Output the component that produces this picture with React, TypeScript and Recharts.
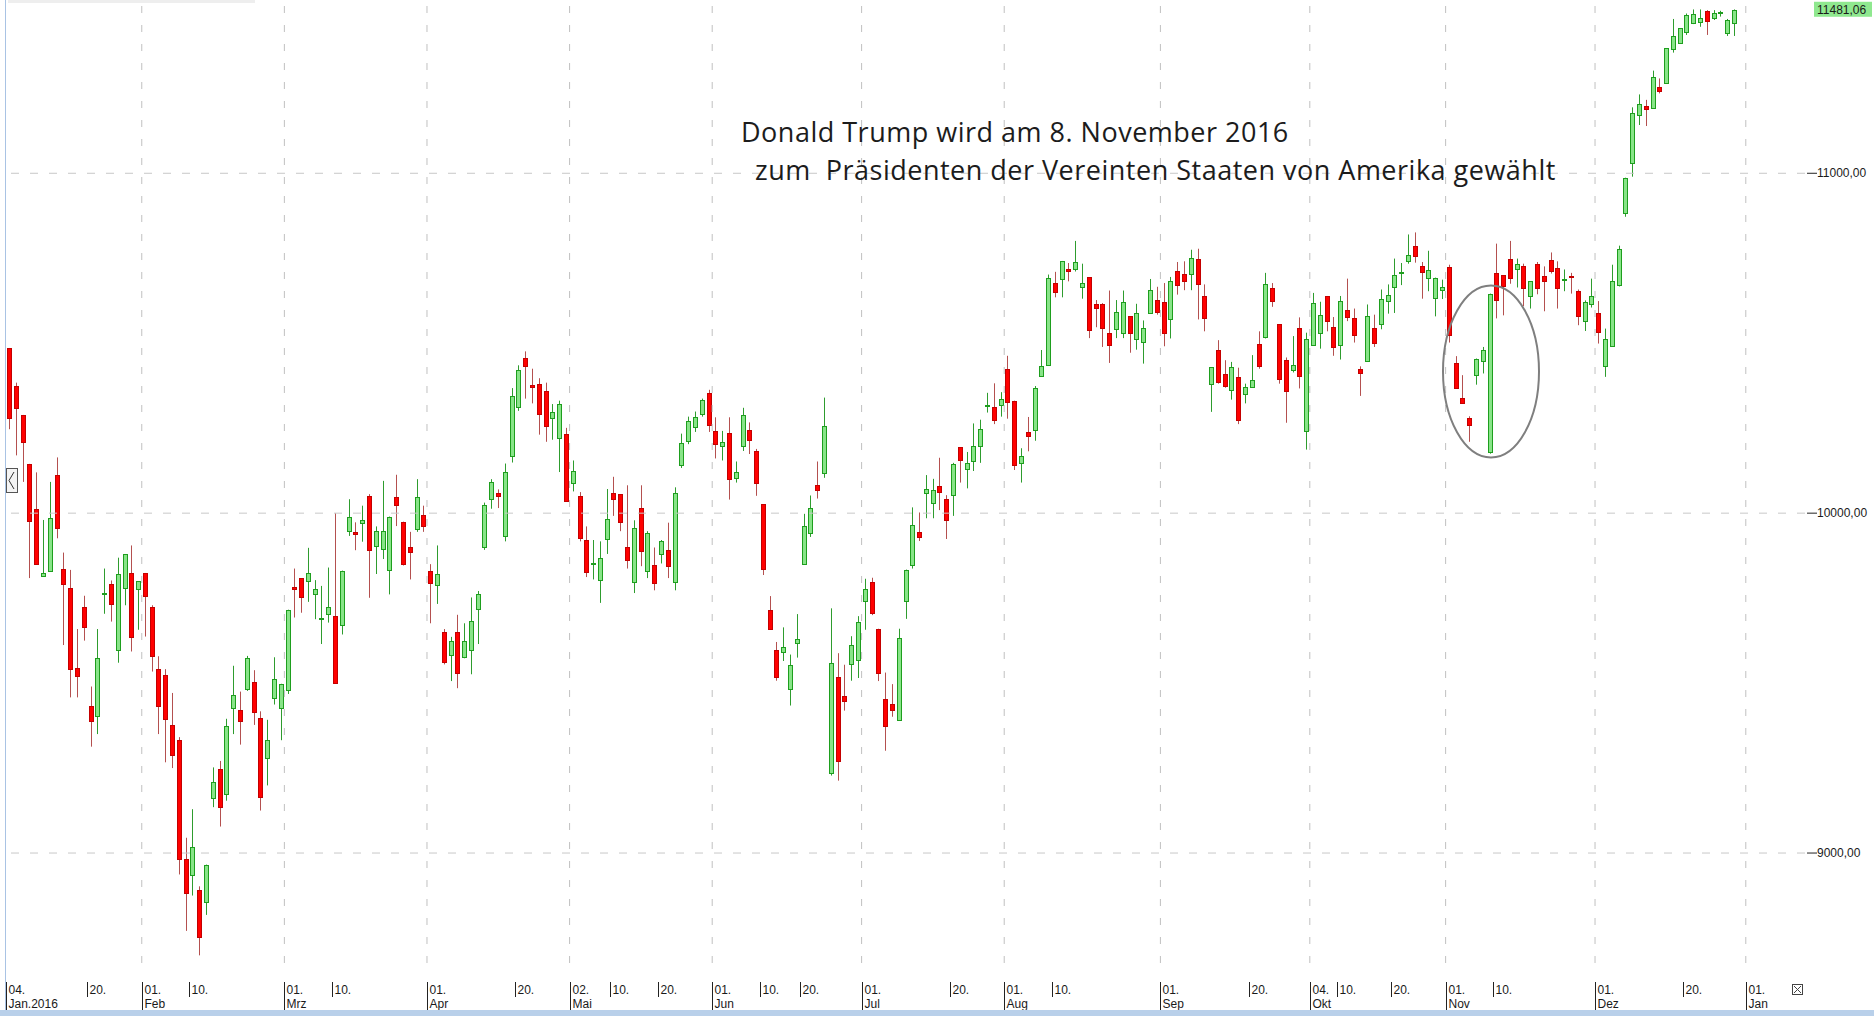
import React from "react";
import {
  ComposedChart,
  Bar,
  XAxis,
  YAxis,
  ReferenceLine,
} from "recharts";

// DAX daily candles, 04.01.2016 - 30.12.2016 (one row per trading day)
const opens = [
  10486, 10374, 10289, 10145, 10011, 9816, 9831, 10113, 9837, 9780, 9545, 9723, 9433, 9401, 9762, 9793, 9598, 9780, 9824, 9774,
  9824, 9723, 9541, 9523, 9377, 9332, 8982, 8938, 8892, 8856, 9163, 9246, 9176, 9426, 9420, 9481, 9504, 9398, 9278, 9456, 9426,
  9481, 9783, 9808, 9799, 9763, 9688, 9701, 9697, 9672, 9949, 9945, 9971, 10051, 9903, 9894, 9835, 10047, 9975, 9901, 9952, 9996,
  9831, 9789, 9649, 9583, 9649, 9576, 9596, 9716, 9901, 10041, 10060, 9933, 10168, 10310, 10457, 10377, 10380, 10359, 10280, 10221, 10234,
  10089, 10051, 9922, 9850, 9805, 9925, 10060, 10056, 9899, 9796, 10015, 9829, 9848, 9880, 9891, 9798, 10142, 10211, 10256, 10292, 10355,
  10242, 10197, 10237, 10104, 10198, 10245, 10183, 10026, 9715, 9596, 9591, 9481, 9620, 9849, 9942, 10084, 10119, 9236, 9518, 9461, 9557, 9567,
  9742, 9796, 9660, 9452, 9438, 9391, 9744, 9848, 9944, 10058, 10028, 10079, 10042, 10054, 10194, 10131, 10154, 10199, 10315, 10311, 10320,
  10425, 10331, 10149, 10239, 10242, 10404, 10436, 10676, 10688, 10718, 10719, 10665, 10694, 10616, 10616, 10530, 10542, 10530, 10579, 10513, 10503, 10588, 10626,
  10622, 10570, 10713, 10705, 10705, 10749, 10639, 10379, 10481, 10409, 10362, 10401, 10350, 10372, 10497, 10517, 10661, 10556, 10450, 10423, 10545, 10239,
  10492, 10531, 10639, 10548, 10496, 10599, 10573, 10423, 10447, 10545, 10558, 10624, 10664, 10708, 10741, 10785, 10726, 10690, 10634, 10656,
  10724, 10442, 10339, 10280, 10409, 10448, 10180, 10707, 10700, 10749, 10718, 10727, 10639, 10734, 10698, 10744, 10720, 10686, 10698, 10654, 10563, 10614,
  10590, 10433, 10492, 10669, 10885, 11032, 11170, 11199, 11193, 11255, 11265, 11368, 11382, 11415, 11443, 11444, 11477, 11459, 11472, 11412, 11444,
];

const highs = [
  10486, 10384, 10289, 10145, 10120, 9980, 10092, 10164, 9884, 9833, 9659, 9757, 9490, 9659, 9837, 9802, 9869, 9879, 9905, 9799,
  9824, 9729, 9579, 9541, 9471, 9341, 9045, 9129, 8902, 8966, 9252, 9271, 9395, 9551, 9475, 9580, 9538, 9417, 9392, 9576, 9498,
  9716, 9837, 9808, 9898, 9803, 9786, 9840, 10000, 9831, 10041, 9973, 10022, 10056, 9961, 10095, 9990, 10113, 9975, 9945, 10100, 10022,
  9850, 9905, 9659, 9636, 9701, 9676, 9752, 9771, 10031, 10100, 10070, 10146, 10368, 10435, 10476, 10425, 10397, 10384, 10321, 10331, 10251,
  10155, 10062, 9961, 9921, 9917, 10071, 10107, 10056, 10082, 9979, 10082, 9947, 9899, 9921, 9972, 10076, 10234, 10284, 10299, 10337, 10363,
  10282, 10242, 10282, 10152, 10310, 10267, 10189, 10026, 9756, 9621, 9664, 9584, 9703, 9998, 10052, 10152, 10340, 9720, 9588, 9554, 9638, 9697,
  9807, 9810, 9660, 9531, 9497, 9660, 9834, 10017, 10002, 10112, 10101, 10163, 10053, 10148, 10194, 10180, 10264, 10275, 10354, 10382, 10356,
  10463, 10331, 10191, 10283, 10374, 10480, 10702, 10710, 10742, 10736, 10801, 10734, 10694, 10627, 10618, 10655, 10627, 10655, 10579, 10616, 10567, 10689, 10666,
  10677, 10695, 10739, 10741, 10775, 10778, 10673, 10430, 10509, 10450, 10445, 10428, 10381, 10465, 10535, 10707, 10677, 10556, 10458, 10521, 10576, 10531,
  10648, 10622, 10639, 10577, 10639, 10690, 10602, 10432, 10614, 10584, 10658, 10673, 10749, 10736, 10820, 10826, 10739, 10772, 10693, 10687,
  10731, 10462, 10406, 10285, 10455, 10489, 10646, 10793, 10700, 10801, 10749, 10734, 10683, 10739, 10726, 10767, 10741, 10717, 10707, 10658, 10626, 10690,
  10624, 10543, 10731, 10787, 10987, 11194, 11232, 11216, 11302, 11279, 11368, 11454, 11426, 11470, 11482, 11482, 11480, 11480, 11478, 11454, 11482,
];

const lows = [
  10247, 10170, 10092, 9809, 9850, 9815, 9830, 9926, 9612, 9458, 9458, 9625, 9313, 9350, 9704, 9681, 9560, 9729, 9593, 9657,
  9637, 9534, 9350, 9267, 9250, 8937, 8771, 8875, 8699, 8818, 9135, 9078, 9154, 9350, 9319, 9477, 9377, 9125, 9199, 9437, 9332,
  9468, 9693, 9707, 9739, 9688, 9615, 9678, 9500, 9643, 9933, 9891, 9916, 9751, 9821, 9865, 9761, 9962, 9846, 9805, 9945, 9945,
  9676, 9733, 9555, 9506, 9485, 9573, 9526, 9615, 9892, 10013, 10015, 9917, 10149, 10301, 10337, 10323, 10231, 10210, 10216, 10121, 10038,
  10064, 9917, 9812, 9805, 9736, 9880, 9992, 9947, 9837, 9765, 9844, 9809, 9773, 9852, 9809, 9773, 10133, 10203, 10239, 10284, 10239,
  10161, 10155, 10040, 10090, 10183, 10174, 10051, 9818, 9658, 9507, 9565, 9434, 9575, 9849, 9930, 10043, 10104, 9228, 9213, 9419, 9507, 9515,
  9657, 9700, 9506, 9301, 9401, 9391, 9689, 9837, 9918, 9985, 9985, 10009, 9924, 9992, 10090, 10073, 10124, 10148, 10296, 10262, 10284,
  10278, 10127, 10090, 10182, 10213, 10401, 10433, 10635, 10635, 10682, 10711, 10631, 10515, 10547, 10489, 10442, 10515, 10515, 10472, 10481, 10440, 10588, 10584,
  10491, 10514, 10643, 10656, 10656, 10570, 10535, 10298, 10381, 10369, 10334, 10262, 10323, 10372, 10425, 10514, 10607, 10381, 10266, 10414, 10367, 10187,
  10492, 10484, 10535, 10463, 10452, 10565, 10502, 10345, 10447, 10489, 10541, 10587, 10589, 10671, 10734, 10737, 10631, 10653, 10579, 10630,
  10502, 10369, 10324, 10210, 10378, 10411, 10175, 10573, 10582, 10675, 10664, 10609, 10602, 10644, 10594, 10705, 10602, 10653, 10646, 10553, 10536, 10605,
  10499, 10401, 10492, 10667, 10872, 10990, 11142, 11139, 11193, 11235, 11265, 11355, 11382, 11407, 11439, 11431, 11407, 11451, 11461, 11404, 11404,
];

const closes = [
  10280, 10310, 10211, 9977, 9850, 9825, 9986, 9958, 9793, 9542, 9522, 9663, 9389, 9573, 9765, 9735, 9822, 9879, 9637, 9799,
  9757, 9579, 9433, 9395, 9288, 8981, 8881, 9019, 8753, 8966, 9210, 9134, 9375, 9465, 9388, 9573, 9417, 9167, 9332, 9513, 9498,
  9716, 9777, 9751, 9824, 9777, 9692, 9723, 9500, 9831, 9990, 9939, 9980, 9891, 9948, 9948, 9990, 10022, 9850, 9886, 10047, 9964,
  9795, 9821, 9561, 9623, 9529, 9623, 9682, 9761, 10025, 10092, 10051, 10120, 10346, 10420, 10432, 10372, 10291, 10257, 10299, 10321, 10038,
  10123, 9926, 9827, 9852, 9869, 9983, 10043, 9973, 9860, 9955, 9889, 9942, 9796, 9917, 9843, 10060, 10206, 10270, 10284, 10333, 10262,
  10203, 10208, 10101, 10121, 10288, 10215, 10088, 9835, 9658, 9517, 9607, 9552, 9631, 9961, 10015, 10069, 10256, 9560, 9270, 9447, 9612, 9680,
  9776, 9706, 9531, 9373, 9419, 9633, 9834, 9966, 9930, 10071, 10067, 10062, 9981, 10146, 10157, 10148, 10199, 10249, 10317, 10273, 10337,
  10329, 10143, 10169, 10227, 10367, 10433, 10691, 10649, 10742, 10713, 10739, 10676, 10537, 10603, 10545, 10494, 10592, 10621, 10530, 10590, 10545, 10657, 10592,
  10531, 10683, 10671, 10685, 10752, 10675, 10573, 10430, 10386, 10375, 10430, 10274, 10372, 10393, 10433, 10673, 10624, 10393, 10360, 10437, 10404, 10511,
  10617, 10584, 10565, 10489, 10625, 10577, 10522, 10411, 10580, 10502, 10631, 10643, 10700, 10710, 10759, 10756, 10707, 10715, 10693, 10664,
  10525, 10369, 10324, 10258, 10455, 10481, 10646, 10628, 10668, 10692, 10734, 10661, 10683, 10664, 10682, 10712, 10661, 10688, 10696, 10580, 10620, 10639,
  10533, 10511, 10683, 10776, 10987, 11178, 11203, 11189, 11284, 11242, 11368, 11405, 11426, 11466, 11470, 11456, 11448, 11473, 11474, 11451, 11481.06,
];

// date axis: trading-day index of each label, first row, second row
const tickDays = [0, 12, 20, 27, 41, 48, 62, 75, 83, 89, 96, 104, 111, 117, 126, 139, 147, 154, 170, 183, 192, 196, 204, 212, 219, 234, 247, 256.2];
const tickTop = ["04.", "20.", "01.", "10.", "01.", "10.", "01.", "20.", "02.", "10.", "20.", "01.", "10.", "20.", "01.", "20.", "01.", "10.", "01.", "20.", "04.", "10.", "20.", "01.", "10.", "01.", "20.", "01."];
const tickMonth = ["Jan.2016", "", "Feb", "", "Mrz", "", "Apr", "", "Mai", "", "", "Jun", "", "", "Jul", "", "Aug", "", "Sep", "", "Okt", "", "", "Nov", "", "Dez", "", "Jan"];

const priceTicks = [9000, 10000, 11000];
const lastPrice = 11481.06;

const W = 1874;
const H = 1016;
const PLOT_RIGHT = 1805;
const PLOT_BOTTOM = 963;
const TICK_SHIFT = 0.45; // labels/gridlines sit half a day left of the candle

const RED_FILL = "#ff0000";
const RED_LINE = "#c40000";
const RED_WICK = "#b4504f";
const GREEN_FILL = "#88e488";
const GREEN_LINE = "#1e9e1e";
const GREEN_WICK = "#2e9c2e";

const FONT = "'Liberation Sans', Arial, sans-serif";

const rows = closes.map((c, i) => ({
  i,
  open: opens[i],
  high: highs[i],
  low: lows[i],
  close: c,
  range: [lows[i], highs[i]],
}));

const fmt = (v: number) => v.toFixed(2).replace(".", ",");

function Candle(props: any) {
  const { x, y, width, height } = props;
  const d = props.payload ?? props;
  if (x == null || y == null || d == null) return null;
  const top = Math.min(y, y + height);
  const h = Math.abs(height);
  const k = h / (d.high - d.low || 1);
  const yO = top + (d.high - d.open) * k;
  const yC = top + (d.high - d.close) * k;
  const up = d.close >= d.open;
  const cx = Math.round(x + width / 2);
  const bt = Math.round(Math.min(yO, yC));
  const bh = Math.max(Math.round(Math.abs(yO - yC)), 1);
  return (
    <g>
      <line
        x1={cx + 0.5}
        x2={cx + 0.5}
        y1={top}
        y2={top + h}
        stroke={up ? GREEN_WICK : RED_WICK}
        strokeWidth={1}
      />
      <rect
        x={cx - 1.5}
        y={bt + 0.5}
        width={4}
        height={bh}
        fill={up ? GREEN_FILL : RED_FILL}
        stroke={up ? GREEN_LINE : RED_LINE}
        strokeWidth={1}
      />
    </g>
  );
}

function DateTick(props: any) {
  const { x, payload } = props;
  const k = tickDays.findIndex((d) => Math.abs(d - TICK_SHIFT - payload.value) < 1e-6);
  if (k < 0) return null;
  const month = tickMonth[k];
  const px = Math.round(x) + 0.5;
  return (
    <g>
      <line x1={px} x2={px} y1={982} y2={month ? 1010 : 997} stroke="#222" />
      <text x={px + 2} y={994} fontSize={12} fontFamily={FONT} fill="#1a1a1a">
        {tickTop[k]}
      </text>
      {month && (
        <text x={px + 2} y={1008} fontSize={12} fontFamily={FONT} fill="#1a1a1a">
          {month}
        </text>
      )}
    </g>
  );
}

function PriceTick(props: any) {
  const { y, payload } = props;
  return (
    <g>
      <line x1={PLOT_RIGHT + 2} x2={PLOT_RIGHT + 12} y1={y} y2={y} stroke="#222" />
      <text x={PLOT_RIGHT + 12} y={y + 4} fontSize={12} fontFamily={FONT} fill="#1a1a1a">
        {fmt(payload.value)}
      </text>
    </g>
  );
}

function LastLabel(props: any) {
  const vb = props.viewBox || {};
  const y = vb.y ?? 10;
  return (
    <g>
      <rect x={PLOT_RIGHT + 9} y={y - 8} width={58} height={15} fill="#8fe88f" />
      <text x={PLOT_RIGHT + 12} y={y + 4} fontSize={12} fontFamily={FONT} fill="#1a1a1a">
        {fmt(lastPrice)}
      </text>
    </g>
  );
}

const noteStyle: React.CSSProperties = {
  position: "absolute",
  fontFamily: "'Open Sans', sans-serif",
  fontSize: 27,
  letterSpacing: 0.5,
  lineHeight: "30px",
  height: 30,
  color: "#1c1c1c",
  whiteSpace: "pre",
  pointerEvents: "none",
};

export default function App() {
  const monthLines = tickDays.filter((_, k) => k > 0 && tickMonth[k] !== "");
  return (
    <div
      style={{
        position: "fixed",
        left: 0,
        top: 0,
        width: W,
        height: H,
        background: "#ffffff",
        overflow: "hidden",
      }}
    >
      <ComposedChart
        width={W}
        height={H}
        data={rows}
        margin={{ top: 0, right: 0, bottom: 0, left: 6 }}
      >
        <XAxis
          type="number"
          dataKey="i"
          domain={[-0.44, 264.47]}
          ticks={tickDays.map((d) => d - TICK_SHIFT)}
          interval={0}
          height={H - PLOT_BOTTOM}
          axisLine={false}
          tickLine={false}
          tick={<DateTick />}
          allowDataOverflow
        />
        <YAxis
          type="number"
          orientation="right"
          domain={[8676.5, 11509.8]}
          ticks={priceTicks}
          width={W - PLOT_RIGHT}
          axisLine={false}
          tickLine={false}
          tick={<PriceTick />}
          allowDataOverflow
        />
        {priceTicks.map((p) => (
          <ReferenceLine key={p} y={p} stroke="#c8c8c8" strokeDasharray="8 11" />
        ))}
        {monthLines.map((d) => (
          <ReferenceLine
            key={d}
            x={d - TICK_SHIFT}
            stroke="#c0c0c0"
            strokeDasharray="7 12"
          />
        ))}
        <ReferenceLine y={lastPrice} stroke="none" label={<LastLabel />} />
        <Bar
          dataKey="range"
          barSize={5}
          shape={<Candle />}
          isAnimationActive={false}
        />
      </ComposedChart>

      <svg
        width={W}
        height={H}
        style={{ position: "absolute", left: 0, top: 0, pointerEvents: "none" }}
      >
        <rect x={8} y={0} width={247} height={3} fill="#eeeeee" />
        <line x1={5.5} x2={5.5} y1={0} y2={H} stroke="#a9c3e4" />
        <rect x={0} y={1010} width={W} height={6} fill="#b9d0ea" />
        <rect x={6.5} y={468.5} width={11} height={24} fill="#f4f4f4" stroke="#555" />
        <polyline points="14,472 9,480.5 14,489" fill="none" stroke="#333" />
        <rect x={1792.5} y={984.5} width={10} height={10} fill="#fff" stroke="#444" />
        <line x1={1794} y1={986} x2={1801} y2={993} stroke="#444" />
        <line x1={1801} y1={986} x2={1794} y2={993} stroke="#444" />
        <ellipse cx={1491} cy={371.5} rx={48} ry={86} fill="none" stroke="#7f7f7f" strokeWidth={2} />
      </svg>

      <div style={{ ...noteStyle, left: 741, top: 117 }}>
        Donald Trump wird am 8. November 2016
      </div>
      <div style={{ ...noteStyle, left: 755, top: 154.6 }}>
        {"zum  Präsidenten der Vereinten Staaten von Amerika gewählt"}
      </div>
    </div>
  );
}
